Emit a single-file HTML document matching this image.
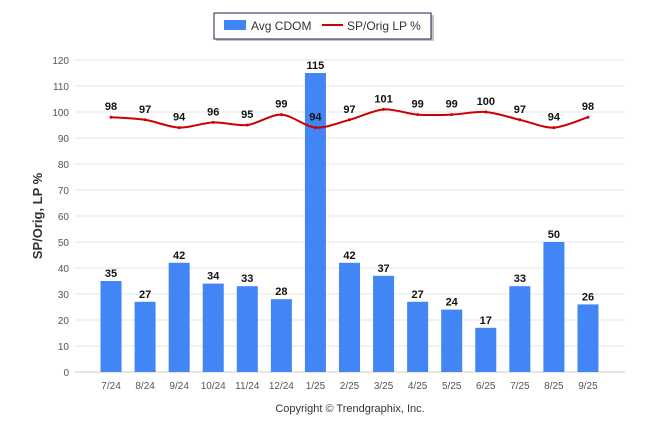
<!DOCTYPE html>
<html><head><meta charset="utf-8"><style>
body{margin:0;background:#fff;font-family:"Liberation Sans",Arial,sans-serif}
</style></head><body>
<svg id="chart" width="646" height="434" xmlns="http://www.w3.org/2000/svg">
<g>
<rect x="216" y="15" width="218" height="26" fill="#99a" opacity="0.6"/>
<rect x="214" y="13" width="217" height="26" fill="#fff" stroke="#1a2a4a" stroke-width="1"/>
<rect x="224" y="20" width="22" height="10" fill="#4285f4"/>
<text x="251" y="30" font-size="12" fill="#333">Avg CDOM</text>
<line x1="322" y1="25" x2="343" y2="25" stroke="#cc0000" stroke-width="2"/>
<text x="347" y="30" font-size="12" fill="#333">SP/Orig LP %</text>
</g>
<text transform="translate(42,216) rotate(-90)" text-anchor="middle" font-size="13" font-weight="bold" fill="#333">SP/Orig, LP %</text>
<text x="350" y="412" text-anchor="middle" font-size="11" fill="#333">Copyright © Trendgraphix, Inc.</text>
<g id="grid"></g><g id="bars"></g><g id="line"></g><g id="labels"></g>
</svg>
<script>
const categories=["7/24","8/24","9/24","10/24","11/24","12/24","1/25","2/25","3/25","4/25","5/25","6/25","7/25","8/25","9/25"];
const cdom=[35,27,42,34,33,28,115,42,37,27,24,17,33,50,26];
const spPct=[98,97,94,96,95,99,94,97,101,99,99,100,97,94,98];
const yTicks=[0,10,20,30,40,50,60,70,80,90,100,110,120];
const NS="http://www.w3.org/2000/svg";
const gx0=75,gx1=625,x0=94,x1=605,yBase=372,yTop=60,yMax=120;
const step=(x1-x0)/categories.length;
function xs(i){return x0+step*(i+0.5);}
function ys(v){return yBase-(v/yMax)*(yBase-yTop);}
function mk(tag,attrs,parent,txt){const e=document.createElementNS(NS,tag);for(const k in attrs)e.setAttribute(k,attrs[k]);if(txt!==undefined)e.textContent=txt;document.getElementById(parent).appendChild(e);return e;}
yTicks.forEach(t=>{
 const l=mk('line',{x1:gx0,x2:gx1,y1:ys(t),y2:ys(t),stroke:t===0?'#ccc':'#e6e6e6','stroke-width':1},'grid');
 
 
 const tx=mk('text',{x:69,y:ys(t)+4,'text-anchor':'end','font-size':10,fill:'#555'},'grid',t);
 
 
});
categories.forEach((c,i)=>{
 const t=mk('text',{x:xs(i),y:389,'text-anchor':'middle','font-size':10,fill:'#555'},'grid',c);
 
 
 const b=mk('rect',{x:xs(i)-10.5,y:ys(cdom[i]),width:21,height:yBase-ys(cdom[i]),fill:'#4285f4'},'bars');
 
 
 const bl=mk('text',{x:xs(i),y:ys(cdom[i])-4,'text-anchor':'middle','font-size':11,'font-weight':'bold',fill:'#111'},'labels',cdom[i]);
 
 
 const pl=mk('text',{x:xs(i),y:ys(spPct[i])-7,'text-anchor':'middle','font-size':11,'font-weight':'bold',fill:'#111'},'labels',spPct[i]);
 
 
});
const pts=spPct.map((v,i)=>[xs(i),ys(v)]);
let d='M'+pts[0][0]+','+pts[0][1];
for(let i=0;i<pts.length-1;i++){
 const p0=pts[Math.max(i-1,0)],p1=pts[i],p2=pts[i+1],p3=pts[Math.min(i+2,pts.length-1)];
 const t=0.15;
 d+=' C'+(p1[0]+(p2[0]-p0[0])*t)+','+(p1[1]+(p2[1]-p0[1])*t)+' '+(p2[0]-(p3[0]-p1[0])*t)+','+(p2[1]-(p3[1]-p1[1])*t)+' '+p2[0]+','+p2[1];
}
const ln=mk('path',{d:d,fill:'none',stroke:'#cc0000','stroke-width':2},'line');


pts.forEach(p=>{
 const c=mk('circle',{cx:p[0],cy:p[1],r:1.5,fill:'#cc0000'},'line');
 
 
});
</script>
</body></html>
